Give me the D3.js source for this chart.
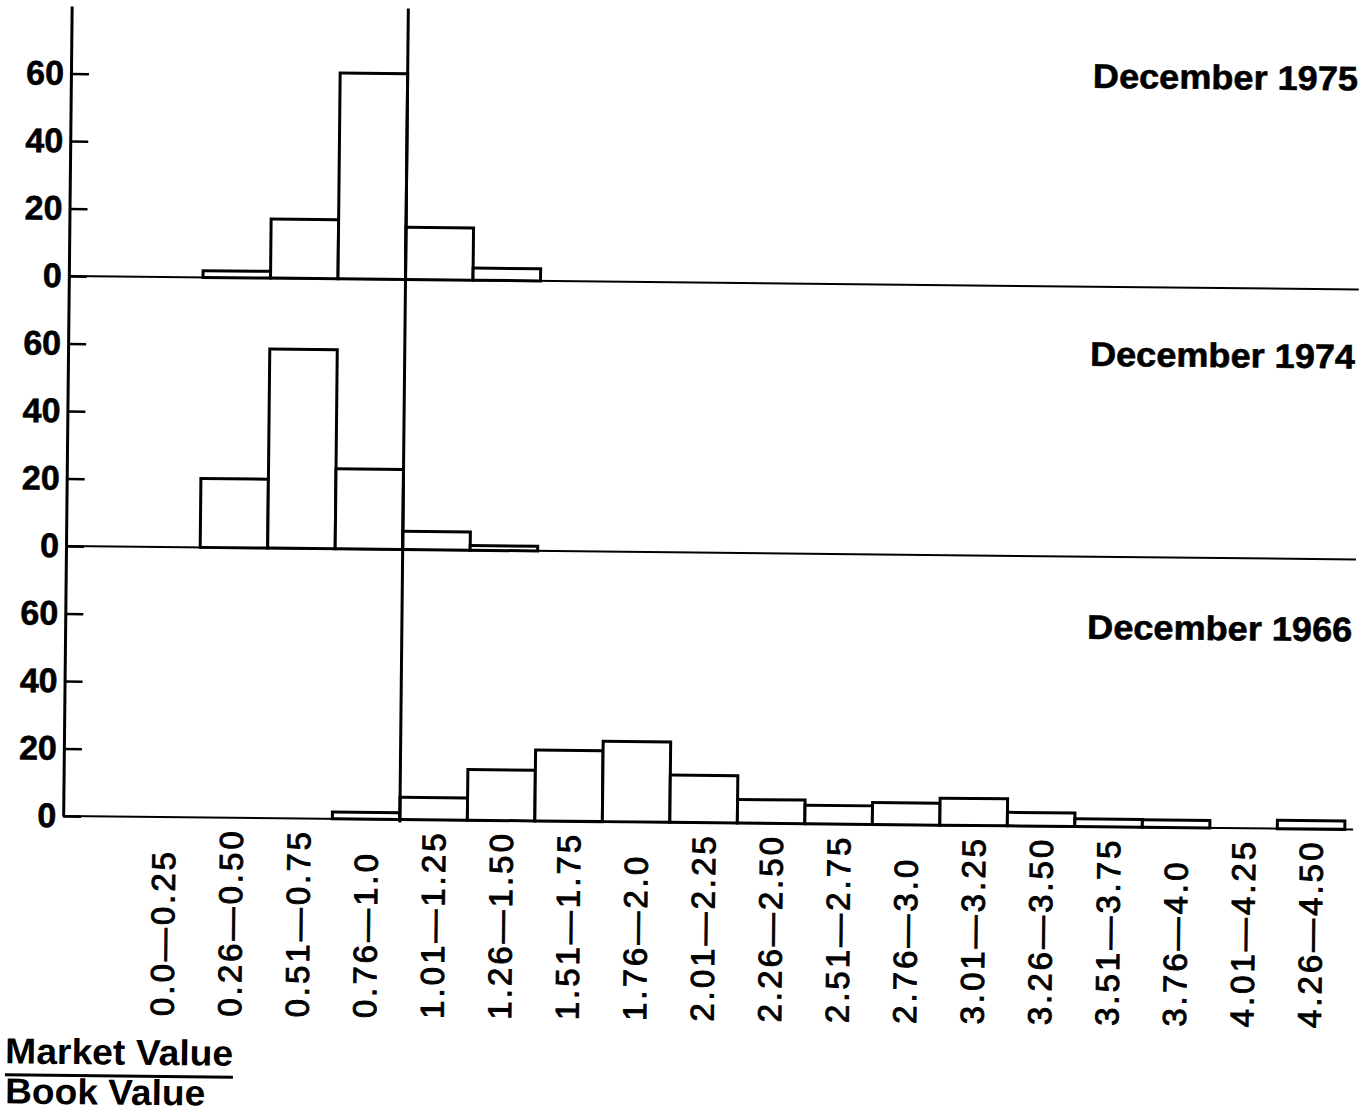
<!DOCTYPE html>
<html>
<head>
<meta charset="utf-8">
<script src="https://cdn.jsdelivr.net/npm/d3@7"></script>
<style>
  body { margin: 0; background: #fff; }
  text { font-family: "Liberation Sans", Arial, Helvetica, sans-serif; fill: #000; }
</style>
</head>
<body>
<script>
// Market value / book value ratio classes
var bins = ["0.0\u20140.25", "0.26\u20140.50", "0.51\u20140.75", "0.76\u20141.0",
            "1.01\u20141.25", "1.26\u20141.50", "1.51\u20141.75", "1.76\u20142.0",
            "2.01\u20142.25", "2.26\u20142.50", "2.51\u20142.75", "2.76\u20143.0",
            "3.01\u20143.25", "3.26\u20143.50", "3.51\u20143.75", "3.76\u20144.0",
            "4.01\u20144.25", "4.26\u20144.50"];

// percent of banks in each class
var dec1975 = [0, 2, 17.5, 61, 15.5, 3.6, 0, 0, 0, 0, 0, 0, 0, 0, 0, 0, 0, 0];
var dec1974 = [0, 20.4, 59, 23.7, 5.4, 1.4, 0, 0, 0, 0, 0, 0, 0, 0, 0, 0, 0, 0];
var dec1966 = [0, 0, 0, 2, 6.6, 15, 21, 23.8, 14, 7, 5.5, 6.5, 8, 4, 2.3, 2.2, 0, 2.5];

var titles = ["December 1975", "December 1974", "December 1966"];
var yTicks = [0, 20, 40, 60];

var width = 1366, height = 1115;
var axisX = 66;
var bases = [276, 546, 816];         // zero line of each panel
var titleOffsets = [201, 193, 190];
var panelHeight = 270;

var svg = d3.select("body").append("svg")
    .attr("width", width)
    .attr("height", height);

svg.append("rect").attr("width", width).attr("height", height).attr("fill", "#fff");

// the scanned page sits a little crooked
var g = svg.append("g").attr("transform", "rotate(0.6," + 68 + "," + 546 + ")");

var x = d3.scaleBand()
    .domain(bins)
    .range([132.7, 1347.7])
    .paddingInner(0)
    .paddingOuter(0);

var series = [dec1975, dec1974, dec1966];

series.forEach(function(values, p){
    var base = bases[p];
    var y = d3.scaleLinear()
        .domain([0, 80])
        .range([base, base - panelHeight]);

    // zero line
    g.append("line")
        .attr("x1", axisX).attr("x2", 1356)
        .attr("y1", y(0)).attr("y2", y(0))
        .attr("stroke", "#000")
        .attr("stroke-width", 2);

    // bars
    g.append("g").selectAll("rect")
        .data(values.map(function(v, i){ return {bin: bins[i], v: v}; }).filter(function(d){ return d.v > 0; }))
        .enter().append("rect")
        .attr("x", function(d){ return x(d.bin); })
        .attr("y", function(d){ return y(d.v); })
        .attr("width", x.bandwidth())
        .attr("height", function(d){ return y(0) - y(d.v); })
        .attr("fill", "#fff")
        .attr("stroke", "#000")
        .attr("stroke-width", 3);

    // y axis
    var ax = g.append("g")
        .attr("transform", "translate(" + axisX + ",0)")
        .call(d3.axisLeft(y).tickValues(yTicks).tickSizeInner(-18).tickSizeOuter(0).tickPadding(7));
    ax.select(".domain").attr("stroke", "#000").attr("stroke-width", 3);
    ax.selectAll(".tick line").attr("stroke", "#000").attr("stroke-width", 2.5);
    ax.selectAll(".tick text")
        .attr("fill", "#000")
        .attr("stroke", "#000")
        .attr("stroke-width", 0.6)
        .style("font-size", "34px")
        .style("font-weight", "bold")
        .style("font-family", "'Liberation Sans', Arial, sans-serif");

    // panel title
    g.append("text")
        .attr("x", 1353)
        .attr("y", base - titleOffsets[p] + 2)
        .attr("text-anchor", "end")
        .attr("textLength", 265)
        .attr("lengthAdjust", "spacingAndGlyphs")
        .attr("stroke", "#000")
        .attr("stroke-width", 0.6)
        .style("font-size", "34px")
        .style("font-weight", "bold")
        .text(titles[p]);
});

// ratio = 1.0 line
g.append("line")
    .attr("x1", x(bins[4])).attr("x2", x(bins[4]))
    .attr("y1", 5).attr("y2", 819)
    .attr("stroke", "#000")
    .attr("stroke-width", 3);

// class labels along the bottom
var xa = g.append("g")
    .attr("transform", "translate(0,1015)")
    .call(d3.axisBottom(x).tickSize(0));
xa.select(".domain").remove();
xa.selectAll(".tick text")
    .attr("y", 0)
    .attr("x", 0)
    .attr("dy", "0.36em")
    .attr("transform", "rotate(-90)")
    .attr("text-anchor", "start")
    .attr("fill", "#000")
    .attr("stroke", "#000")
    .attr("stroke-width", 0.9)
    .style("font-size", "33px")
    .style("letter-spacing", "3px")
    .style("font-family", "'Liberation Sans', Arial, sans-serif");

// axis caption as a fraction
g.append("text")
    .attr("x", 10.5).attr("y", 1064)
    .attr("textLength", 228)
    .attr("lengthAdjust", "spacingAndGlyphs")
    .style("font-size", "36px")
    .style("font-weight", "bold")
    .text("Market Value");

g.append("line")
    .attr("x1", 10.5).attr("x2", 238.5)
    .attr("y1", 1075.5).attr("y2", 1075.5)
    .attr("stroke", "#000")
    .attr("stroke-width", 3);

g.append("text")
    .attr("x", 10.9).attr("y", 1104)
    .attr("textLength", 200)
    .attr("lengthAdjust", "spacingAndGlyphs")
    .style("font-size", "36px")
    .style("font-weight", "bold")
    .text("Book Value");
</script>
</body>
</html>
